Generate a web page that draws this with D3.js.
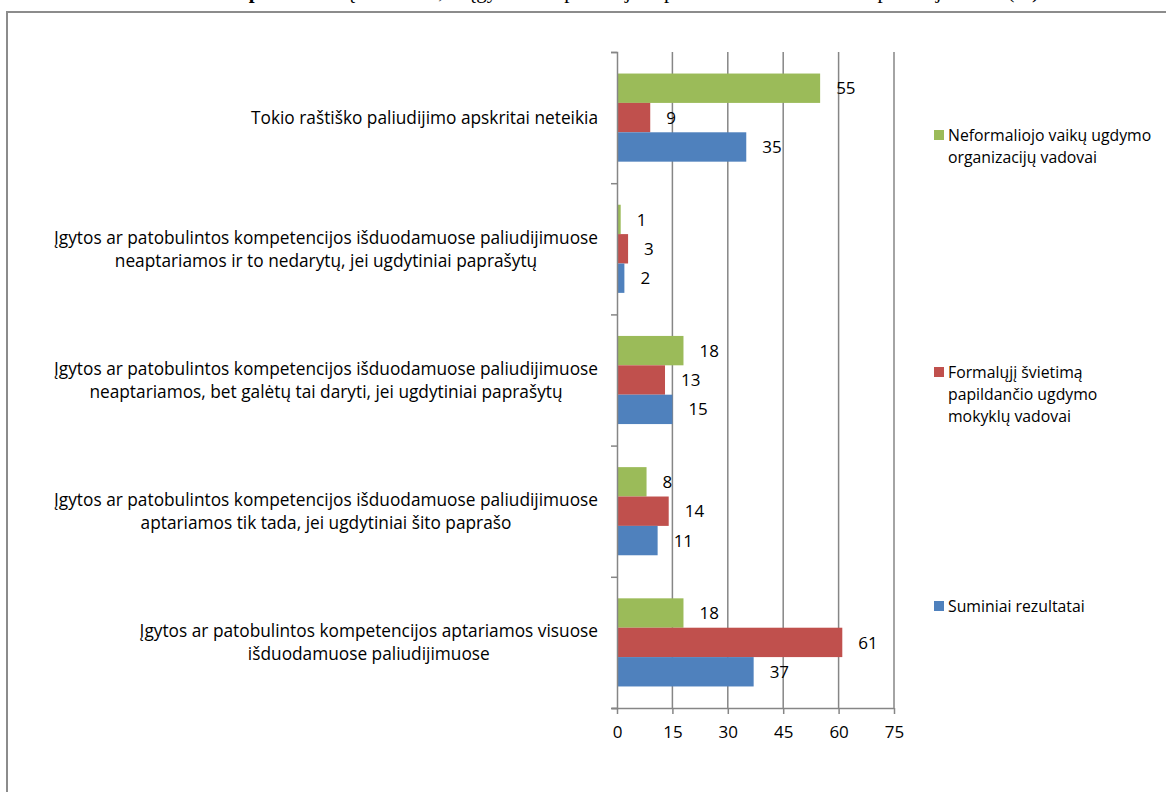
<!DOCTYPE html>
<html><head><meta charset="utf-8">
<script src="https://cdn.jsdelivr.net/npm/d3@7"></script>
<style>body{margin:0;background:#fff;} svg{display:block;}</style>
</head><body>
<svg id="c" width="1166" height="792"></svg>
<script>
const categories = [
  "Tokio raštiško paliudijimo apskritai neteikia",
  "Įgytos ar patobulintos kompetencijos išduodamuose paliudijimuose|neaptariamos ir to nedarytų, jei ugdytiniai paprašytų",
  "Įgytos ar patobulintos kompetencijos išduodamuose paliudijimuose|neaptariamos, bet galėtų tai daryti, jei ugdytiniai paprašytų",
  "Įgytos ar patobulintos kompetencijos išduodamuose paliudijimuose|aptariamos tik tada, jei ugdytiniai šito paprašo",
  "Įgytos ar patobulintos kompetencijos aptariamos visuose|išduodamuose paliudijimuose"
];
const seriesNames = ["Neformaliojo vaikų ugdymo|organizacijų vadovai", "Formalųjį švietimą|papildančio ugdymo|mokyklų vadovai", "Suminiai rezultatai"];
const seriesColors = ["#9BBB59", "#C0504D", "#4F81BD"];
const neformaliojo = [55, 1, 18, 8, 18];
const formaliojo = [9, 3, 13, 14, 61];
const suminiai = [35, 2, 15, 11, 37];
const seriesValues = [neformaliojo, formaliojo, suminiai];
const xTicks = [0, 15, 30, 45, 60, 75];

const svg = d3.select("#c");
const font = "'Open Sans', sans-serif";

// title (cropped at top, as in the reference)
svg.append("text").attr("x", 233).attr("y", -2).attr("font-family", "'Liberation Serif', serif")
  .attr("font-size", 21).attr("fill", "#000")
  .call(t => {
    t.append("tspan").attr("font-weight", "bold").text("3 pav. ");
    t.append("tspan").text("Vadovų nuomonė, ar įgytos kompetencijos aptariamos išduodamuose paliudijimuose (%)");
  });

// chart border
svg.append("rect").attr("x", 7).attr("y", 12).attr("width", 1200).attr("height", 820)
  .attr("fill", "none").attr("stroke", "#8c8c8c").attr("stroke-width", 2);

const x = d3.scaleLinear().domain([0, 75]).range([617, 894]);
const y = d3.scaleBand().domain(d3.range(categories.length)).range([52, 708]).paddingInner(0).paddingOuter(0);
const ys = d3.scaleBand().domain(d3.range(3)).range([0, y.bandwidth()]).paddingInner(0).paddingOuter(0.733);

// gridlines
svg.append("g").selectAll("line").data(xTicks.slice(1)).join("line")
  .attr("x1", d => x(d)).attr("x2", d => x(d)).attr("y1", 52).attr("y2", 708)
  .attr("stroke", "#868686").attr("stroke-width", 1.5);

// bars
const g = svg.append("g");
seriesValues.forEach((vals, si) => {
  g.selectAll(null).data(vals).join("rect")
    .attr("x", x(0)).attr("y", (d, i) => y(i) + ys(si))
    .attr("width", d => x(d) - x(0)).attr("height", ys.bandwidth())
    .attr("fill", seriesColors[si]);
  g.selectAll(null).data(vals).join("text")
    .attr("x", d => x(d) + 16).attr("y", (d, i) => y(i) + ys(si) + ys.bandwidth() / 2)
    .attr("dy", "0.36em").attr("font-family", font).attr("font-size", 17).attr("fill", "#000")
    .text(d => d);
});

// y axis
const yAxis = d3.axisLeft(d3.scaleLinear().domain([0, categories.length]).range([708, 52]))
  .ticks(categories.length).tickSize(6).tickFormat("");
svg.append("g").attr("transform", `translate(${x(0)},0)`).call(yAxis)
  .call(a => a.select(".domain").attr("stroke", "#868686").attr("stroke-width", 1.5))
  .call(a => a.selectAll(".tick line").attr("stroke", "#868686").attr("stroke-width", 1.5));

// x axis
const xAxis = d3.axisBottom(x).tickValues(xTicks).tickSize(6).tickSizeOuter(0).tickPadding(12);
svg.append("g").attr("transform", "translate(0,708)").call(xAxis)
  .call(a => a.select(".domain").attr("stroke", "#868686").attr("stroke-width", 1.5).attr("d", `M${x(0)-5},0.5H${x(75)}`))
  .call(a => a.selectAll(".tick line").attr("stroke", "#868686").attr("stroke-width", 1.5))
  .call(a => a.selectAll(".tick text").attr("font-family", font).attr("font-size", 17).attr("fill", "#000"));

// category labels: each label block is right-aligned against the axis, its lines centred within the block
const labelRight = x(0) - 19;
categories.forEach((c, i) => {
  const lines = c.split("|");
  const cy = y(i) + y.bandwidth() / 2;
  const lh = 23;
  const t = svg.append("text").attr("text-anchor", "middle")
    .attr("font-family", font).attr("font-size", 17.3).attr("fill", "#000");
  const spans = lines.map((l, k) =>
    t.append("tspan").attr("y", cy + (k - (lines.length - 1) / 2) * lh).attr("dy", "0.36em").text(l));
  const w = d3.max(spans, s => s.node().getComputedTextLength());
  spans.forEach(s => s.attr("x", labelRight - w / 2));
});

// legend
const legendY = [135, 372, 606];
seriesNames.forEach((n, si) => {
  const lines = n.split("|");
  svg.append("rect").attr("x", 934).attr("y", legendY[si] - 5).attr("width", 10).attr("height", 10).attr("fill", seriesColors[si]);
  const t = svg.append("text").attr("font-family", font).attr("font-size", 15.8).attr("fill", "#000");
  lines.forEach((l, k) => {
    t.append("tspan").attr("x", 948).attr("y", legendY[si] + k * 22).attr("dy", "0.36em").text(l);
  });
});
</script>
</body></html>
